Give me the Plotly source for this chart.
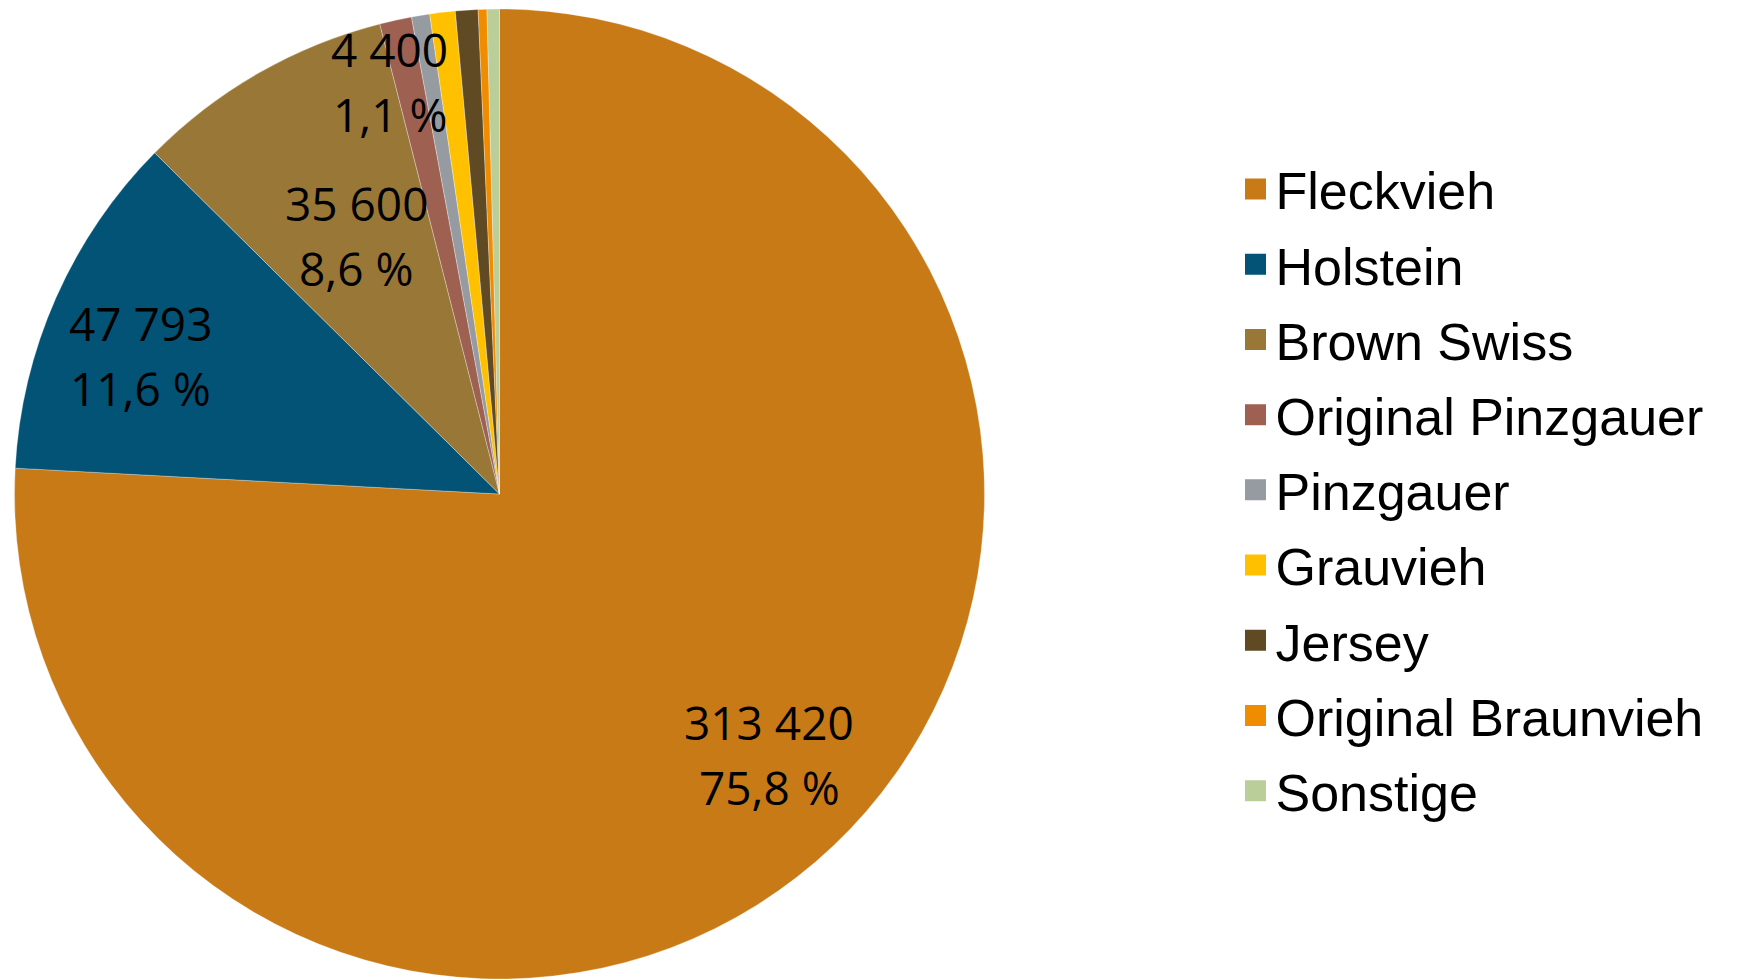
import math
import plotly.graph_objects as go

# breeds, clockwise from 12 o'clock
breeds = ["Fleckvieh", "Holstein", "Brown Swiss", "Original Pinzgauer", "Pinzgauer",
          "Grauvieh", "Jersey", "Original Braunvieh", "Sonstige"]
cows = [313420, 47793, 35600, 4400, 2500, 3500, 3100, 1200, 1700]
colors = ["#C77A15", "#025375", "#997736", "#9E6050", "#959BA0",
          "#FFC000", "#604A23", "#F08C00", "#BACE99"]
# only the bigger slices get a data label
labelled = [True, True, True, True, False, False, False, False, False]

W, H = 1737, 979
# pie placement in figure pixels (page body adds an 8px offset when shown)
pie_x = [5.5, 977.5]
pie_y = [8 / H, 978 / H]
cx = (pie_x[0] + pie_x[1]) / 2
R = min(pie_x[1] - pie_x[0], (pie_y[1] - pie_y[0]) * H) / 2
cy = H - (pie_y[0] + pie_y[1]) / 2 * H

# data label placement (radius as share of R, angle tweak in degrees) like excel's best fit
label_pos = {"Fleckvieh": (0.776, -2.3), "Holstein": (0.791, -3.1),
             "Brown Swiss": (0.605, 0.6), "Original Pinzgauer": (0.876, -2.6)}

total = sum(cows)

fig = go.Figure()
fig.add_trace(go.Pie(labels=breeds, values=cows, textinfo="none",
                     marker=dict(colors=colors, line=dict(color="rgba(255,255,255,0.5)", width=0.6)),
                     sort=False, direction="clockwise", rotation=0,
                     domain=dict(x=[pie_x[0] / W, pie_x[1] / W], y=pie_y),
                     showlegend=False, hoverinfo="label+value+percent"))

# legend entries with bigger square swatches
for name, c in zip(breeds, colors):
    fig.add_trace(go.Scatter(x=[None], y=[None], mode="markers", name=name,
                             legendgroup=name,
                             marker=dict(symbol="square", size=16, color=c,
                                         line=dict(color=c, width=5))))

# data labels: value and percent, two lines
cum = 0
for name, v, show in zip(breeds, cows, labelled):
    mid = (cum + v / 2) / total * 360
    cum += v
    if not show:
        continue
    f, tweak = label_pos[name]
    a = math.radians(mid + tweak)
    px = cx + f * R * math.sin(a)
    py = cy - f * R * math.cos(a)
    num = f"{v:,}".replace(",", " ")
    pct = f"{v / total * 100:.1f}".replace(".", ",") + " %"
    for txt, shift in ((num, 35), (pct, -30)):
        fig.add_annotation(x=px / W, y=1 - py / H, xref="paper", yref="paper",
                           xanchor="center", yanchor="middle",
                           text=txt, showarrow=False, yshift=shift,
                           font=dict(family="Open Sans", size=46, color="black"))

fig.update_layout(width=W, height=H,
                  margin=dict(l=0, r=0, t=0, b=0),
                  paper_bgcolor="white", plot_bgcolor="white",
                  xaxis=dict(visible=False), yaxis=dict(visible=False),
                  legend=dict(x=1227.5 / W, xanchor="left", y=0.5074, yanchor="middle",
                              font=dict(family="Liberation Sans", size=52, color="black"),
                              tracegroupgap=4.6, itemsizing="trace"))

fig.write_html("out.html")
